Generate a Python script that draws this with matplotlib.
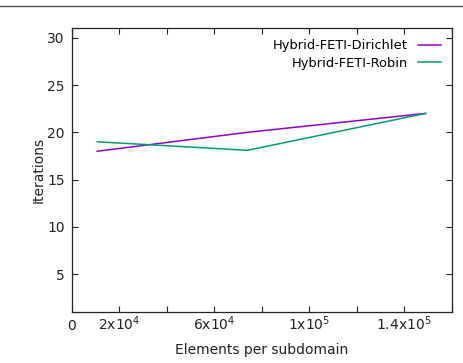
import numpy as np
import matplotlib
matplotlib.use("Agg")
import matplotlib.pyplot as plt
from matplotlib.lines import Line2D

# Data
elements = [1.07e4, 7.4e4, 1.49e5]
dirichlet = [18, 20, 22]
robin = [19, 18.1, 22]

xticks = [0, 2e4, 4e4, 6e4, 8e4, 1e5, 1.2e5, 1.4e5, 1.6e5]
xtick_labels = ["0", r"2x10$^{4}$", "", r"6x10$^{4}$", "", r"1x10$^{5}$", "", r"1.4x10$^{5}$", ""]
yticks = [5, 10, 15, 20, 25, 30]

plt.rcParams["font.family"] = "DejaVu Sans"
plt.rcParams["font.size"] = 10
plt.rcParams["mathtext.default"] = "regular"

fig = plt.figure(figsize=(4.63, 3.63), dpi=100)
ax = fig.add_axes([0.155, 0.1405, 0.8205, 0.7815])

ax.plot(elements, dirichlet, color="#9400D3", lw=1.1, label="Hybrid-FETI-Dirichlet")
ax.plot(elements, robin, color="#009E73", lw=1.1, label="Hybrid-FETI-Robin")

ax.set_xlim(0, 1.6e5)
ax.set_ylim(1, 31)
ax.set_xticks(xticks)
ax.set_xticklabels(xtick_labels)
# keep "0" and the 10^n labels on the same baseline, like gnuplot does
for lbl in ax.get_xticklabels():
    lbl.set_verticalalignment("baseline")
ax.set_yticks(yticks)
ax.tick_params(direction="in", length=4, width=0.8, top=True, right=True,
               colors="#222222", labelcolor="#222222")
ax.tick_params(axis="x", pad=13)
ax.tick_params(axis="y", pad=5)
for s in ax.spines.values():
    s.set_linewidth(0.9)
    s.set_color("#222222")

ax.set_xlabel("Elements per subdomain", color="#222222", labelpad=7)
ax.set_ylabel("Iterations", color="#222222", labelpad=1)

ax.legend(loc="upper right", frameon=False, markerfirst=False, handlelength=1.75,
          labelspacing=0.32, handletextpad=0.75, borderaxespad=0.45, fontsize=9.4)

# page header rule above the chart
fig.add_artist(Line2D([0, 1], [1 - 5.5 / 363, 1 - 5.5 / 363], transform=fig.transFigure,
                      color="#555555", lw=1.0))

fig.savefig("out.png", dpi=100)
